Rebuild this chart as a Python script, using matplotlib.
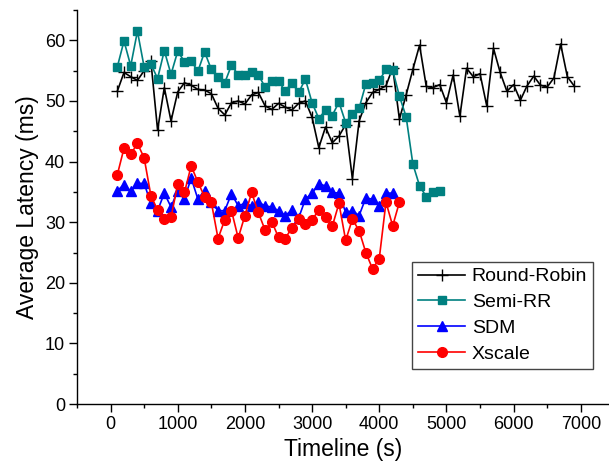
import numpy as np
import matplotlib
matplotlib.use('Agg')
import matplotlib.pyplot as plt
from matplotlib.ticker import MultipleLocator

plt.rcParams['font.family'] = ['Liberation Sans', 'DejaVu Sans']

# Round-Robin: every 100 s from 100 to 6900
rr_t = np.arange(100, 7000, 100)
rr_v = [51.6, 54.7, 54.0, 53.4, 55.0, 56.6, 45.2, 52.2, 46.7, 51.5,
        53.0, 52.6, 51.9, 51.8, 51.2, 48.8, 47.7, 49.7, 50.0, 49.5,
        51.0, 51.4, 49.2, 48.6, 49.6, 49.0, 48.5, 49.6, 50.0, 47.3,
        42.3, 45.7, 43.1, 44.2, 46.1, 37.2, 46.7, 49.7, 51.4, 51.9,
        52.5, 55.5, 47.0, 51.0, 55.2, 59.2, 52.4, 52.2, 52.7, 49.7,
        54.3, 47.5, 55.4, 54.0, 54.5, 49.2, 58.7, 54.7, 51.6, 52.7,
        50.1, 52.5, 54.1, 52.6, 52.3, 53.8, 59.4, 54.0, 52.5]

# Semi-RR: 100 .. 4900
srr_t = np.arange(100, 5000, 100)
srr_v = [55.6, 59.9, 55.8, 61.5, 55.6, 56.1, 53.7, 58.3, 54.4, 58.2,
         56.5, 56.6, 54.9, 58.1, 55.2, 53.9, 53.0, 55.9, 54.3, 54.3,
         54.7, 54.3, 52.3, 53.3, 53.3, 51.6, 53.0, 51.4, 53.6, 49.7,
         47.1, 48.5, 47.6, 49.8, 46.4, 47.9, 48.8, 52.8, 53.0, 53.4,
         55.2, 55.1, 50.8, 47.4, 39.6, 36.0, 34.2, 35.0, 35.2]

# SDM: 100 .. 4200
sdm_t = np.arange(100, 4300, 100)
sdm_v = [35.2, 36.2, 35.1, 36.4, 36.4, 33.1, 31.9, 34.8, 32.5, 35.2,
         33.8, 37.3, 33.8, 35.2, 33.3, 31.9, 31.9, 34.7, 32.7, 33.1,
         32.7, 33.3, 32.7, 32.5, 31.9, 31.1, 32.0, 30.7, 33.8, 34.8,
         36.3, 36.0, 34.9, 34.8, 31.6, 31.9, 31.1, 34.0, 33.8, 32.7,
         34.8, 34.8]

# Xscale: 100 .. 4300
xs_t = np.arange(100, 4400, 100)
xs_v = [37.8, 42.2, 41.2, 43.0, 40.6, 34.4, 32.0, 30.5, 30.8, 36.3,
        34.9, 39.3, 36.6, 34.2, 33.3, 27.3, 30.4, 31.9, 27.4, 31.1,
        34.9, 31.6, 28.7, 30.1, 27.5, 27.3, 29.1, 30.5, 29.7, 30.4,
        32.0, 30.8, 29.3, 33.1, 27.0, 30.5, 28.6, 25.0, 22.3, 24.0,
        33.3, 29.4, 33.3]

fig = plt.figure(figsize=(6.09, 4.72), dpi=100)
ax = fig.add_axes([0.1264, 0.144, 0.8736, 0.8347])

ax.plot(rr_t, rr_v, color='black', lw=1.2, marker='+', ms=8, mew=1.0, label='Round-Robin')
ax.plot(srr_t, srr_v, color='#008080', lw=1.2, marker='s', ms=6, label='Semi-RR')
ax.plot(sdm_t, sdm_v, color='#0000FF', lw=1.2, marker='^', ms=7, label='SDM')
ax.plot(xs_t, xs_v, color='#FF0000', lw=1.2, marker='o', ms=7, label='Xscale')

ax.set_xlim(-500, 7420)
ax.set_ylim(0, 65)
ax.xaxis.set_major_locator(MultipleLocator(1000))
ax.xaxis.set_minor_locator(MultipleLocator(500))
ax.yaxis.set_major_locator(MultipleLocator(10))
ax.yaxis.set_minor_locator(MultipleLocator(5))
ax.set_xticks(range(0, 8000, 1000))
ax.tick_params(which='major', direction='out', length=5.5, width=1, labelsize=13, pad=3)
ax.tick_params(which='minor', direction='out', length=3, width=1)
for s in ['top', 'right']:
    ax.spines[s].set_visible(False)
for s in ['left', 'bottom']:
    ax.spines[s].set_linewidth(1)

ax.set_xlabel('Timeline (s)', fontsize=16.5)
ax.set_ylabel('Average Latency (ms)', fontsize=16.5)

leg = ax.legend(loc='upper right', bbox_to_anchor=(593 / 609, 1 - 262 / 472),
                bbox_transform=fig.transFigure, fontsize=14, fancybox=False,
                edgecolor='#444444', framealpha=1, handlelength=2.4,
                handletextpad=0.35, labelspacing=0.42, borderpad=0.3,
                borderaxespad=0)
leg.get_frame().set_linewidth(1)

fig.savefig('out.png', dpi=100)
